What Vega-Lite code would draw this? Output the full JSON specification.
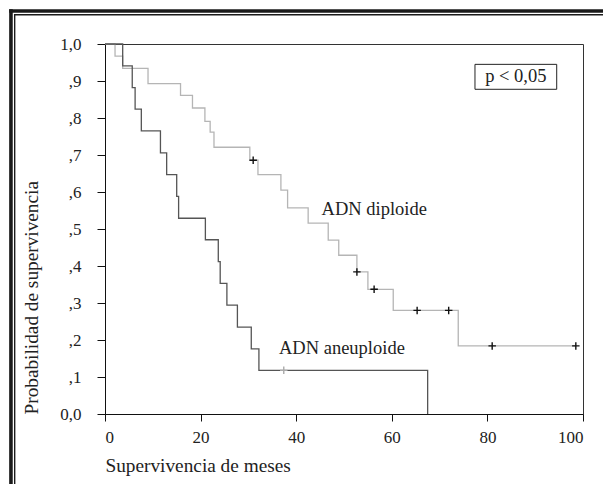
{
  "$schema": "https://vega.github.io/schema/vega-lite/v6.json",
  "autosize": "none",
  "width": 478,
  "height": 370,
  "padding": {"left": 105, "top": 44, "right": 20, "bottom": 70},
  "background": "white",
  "config": {
    "font": "Liberation Serif",
    "view": {"stroke": "#333", "strokeWidth": 1},
    "axis": {"grid": false, "domainColor": "#111", "tickColor": "#111", "labelColor": "#222", "titleColor": "#222", "labelFont": "Liberation Serif", "titleFont": "Liberation Serif", "labelFontSize": 17, "titleFontSize": 19.3, "titleFontWeight": "normal"}
  },
  "datasets": {
    "curves": [
      {"grupo": "ADN diploide", "t": 0, "s": 1},
      {"grupo": "ADN diploide", "t": 2.1, "s": 0.967},
      {"grupo": "ADN diploide", "t": 3.7, "s": 0.934},
      {"grupo": "ADN diploide", "t": 9.0, "s": 0.893},
      {"grupo": "ADN diploide", "t": 15.8, "s": 0.861},
      {"grupo": "ADN diploide", "t": 18.3, "s": 0.827},
      {"grupo": "ADN diploide", "t": 20.9, "s": 0.791},
      {"grupo": "ADN diploide", "t": 22.0, "s": 0.762},
      {"grupo": "ADN diploide", "t": 22.8, "s": 0.721},
      {"grupo": "ADN diploide", "t": 30.3, "s": 0.686},
      {"grupo": "ADN diploide", "t": 32.0, "s": 0.647},
      {"grupo": "ADN diploide", "t": 36.8, "s": 0.605},
      {"grupo": "ADN diploide", "t": 38.2, "s": 0.557},
      {"grupo": "ADN diploide", "t": 42.5, "s": 0.516},
      {"grupo": "ADN diploide", "t": 46.7, "s": 0.470},
      {"grupo": "ADN diploide", "t": 48.9, "s": 0.429},
      {"grupo": "ADN diploide", "t": 52.7, "s": 0.384},
      {"grupo": "ADN diploide", "t": 55.0, "s": 0.337},
      {"grupo": "ADN diploide", "t": 60.3, "s": 0.280},
      {"grupo": "ADN diploide", "t": 73.9, "s": 0.184},
      {"grupo": "ADN diploide", "t": 98.5, "s": 0.184},
      {"grupo": "ADN aneuploide", "t": 0, "s": 1},
      {"grupo": "ADN aneuploide", "t": 3.7, "s": 0.941},
      {"grupo": "ADN aneuploide", "t": 5.7, "s": 0.882},
      {"grupo": "ADN aneuploide", "t": 6.3, "s": 0.824},
      {"grupo": "ADN aneuploide", "t": 7.6, "s": 0.765},
      {"grupo": "ADN aneuploide", "t": 11.6, "s": 0.706},
      {"grupo": "ADN aneuploide", "t": 12.9, "s": 0.647},
      {"grupo": "ADN aneuploide", "t": 15.0, "s": 0.588},
      {"grupo": "ADN aneuploide", "t": 15.4, "s": 0.529},
      {"grupo": "ADN aneuploide", "t": 21.0, "s": 0.471},
      {"grupo": "ADN aneuploide", "t": 23.7, "s": 0.412},
      {"grupo": "ADN aneuploide", "t": 24.1, "s": 0.353},
      {"grupo": "ADN aneuploide", "t": 25.5, "s": 0.294},
      {"grupo": "ADN aneuploide", "t": 27.7, "s": 0.235},
      {"grupo": "ADN aneuploide", "t": 30.6, "s": 0.176},
      {"grupo": "ADN aneuploide", "t": 32.2, "s": 0.118},
      {"grupo": "ADN aneuploide", "t": 67.5, "s": 0}
    ],
    "censored": [
      {"grupo": "ADN diploide", "t": 31.0, "s": 0.686},
      {"grupo": "ADN diploide", "t": 52.7, "s": 0.384},
      {"grupo": "ADN diploide", "t": 56.3, "s": 0.337},
      {"grupo": "ADN diploide", "t": 65.3, "s": 0.280},
      {"grupo": "ADN diploide", "t": 71.9, "s": 0.280},
      {"grupo": "ADN diploide", "t": 81.0, "s": 0.184},
      {"grupo": "ADN diploide", "t": 98.5, "s": 0.184},
      {"grupo": "ADN aneuploide", "t": 37.4, "s": 0.118}
    ],
    "labels": [
      {"texto": "ADN diploide", "t": 45.3, "s": 0.537},
      {"texto": "ADN aneuploide", "t": 36.4, "s": 0.161}
    ],
    "pbox": [
      {"t": 77.4, "t2": 94.5, "s": 0.8776, "s2": 0.945}
    ],
    "ptext": [
      {"t": 85.95, "s": 0.898, "texto": "p < 0,05"}
    ],
    "frame": [
      {"t": -20.05, "t2": -19.30, "s": 1.0941, "s2": -0.25},
      {"t": -20.05, "t2": 108, "s": 1.0941, "s2": 1.0843},
      {"t": -19.04, "t2": -18.75, "s": 1.0811, "s2": -0.25},
      {"t": -19.04, "t2": 108, "s": 1.0811, "s2": 1.0773}
    ]
  },
  "encoding": {
    "x": {"field": "t", "type": "quantitative", "scale": {"domain": [0, 100], "nice": false, "zero": false}, "axis": {"values": [0, 20, 40, 60, 80, 100], "tickSize": 7, "labelPadding": 8, "labelOverlap": false, "title": "Supervivencia de meses", "titleAnchor": "start", "titleAlign": "left", "titlePadding": 11}},
    "y": {"field": "s", "type": "quantitative", "scale": {"domain": [0, 1], "nice": false, "zero": false}, "axis": {"values": [0, 0.1, 0.2, 0.3, 0.4, 0.5, 0.6, 0.7, 0.8, 0.9, 1], "tickSize": 8, "labelPadding": 16, "labelOverlap": false, "labelSeparation": 0, "labelExpr": "datum.value == 1 ? '1,0' : (datum.value == 0 ? '0,0' : ',' + round(datum.value * 10))", "title": "Probabilidad de supervivencia", "titleAnchor": "start", "titlePadding": 18}}
  },
  "layer": [
    {
      "data": {"name": "frame"},
      "mark": {"type": "rect", "fill": "#1a1a1a", "stroke": null, "clip": false},
      "encoding": {
        "x2": {"field": "t2"},
        "y2": {"field": "s2"}
      }
    },
    {
      "data": {"name": "curves"},
      "mark": {"type": "line", "interpolate": "step-after", "strokeWidth": 1.3},
      "encoding": {
        "detail": {"field": "grupo"},
        "color": {"field": "grupo", "type": "nominal", "scale": {"domain": ["ADN diploide", "ADN aneuploide"], "range": ["#b5b5b5", "#555555"]}, "legend": null}
      }
    },
    {
      "data": {"name": "censored"},
      "mark": {"type": "point", "shape": "M-1,0H1M0,-1V1", "size": 56, "strokeWidth": 1.4, "opacity": 1, "filled": false},
      "encoding": {
        "stroke": {"field": "grupo", "type": "nominal", "scale": {"domain": ["ADN diploide", "ADN aneuploide"], "range": ["#111111", "#aaaaaa"]}, "legend": null}
      }
    },
    {
      "data": {"name": "labels"},
      "mark": {"type": "text", "align": "left", "baseline": "alphabetic", "fontSize": 18.5, "font": "Liberation Serif", "color": "#222"},
      "encoding": {
        "text": {"field": "texto"}
      }
    },
    {
      "data": {"name": "pbox"},
      "mark": {"type": "rect", "fill": "white", "stroke": "#222", "strokeWidth": 1},
      "encoding": {
        "x2": {"field": "t2"},
        "y2": {"field": "s2"}
      }
    },
    {
      "data": {"name": "ptext"},
      "mark": {"type": "text", "align": "center", "baseline": "alphabetic", "fontSize": 18.5, "font": "Liberation Serif", "color": "#222"},
      "encoding": {
        "text": {"field": "texto"}
      }
    }
  ]
}
